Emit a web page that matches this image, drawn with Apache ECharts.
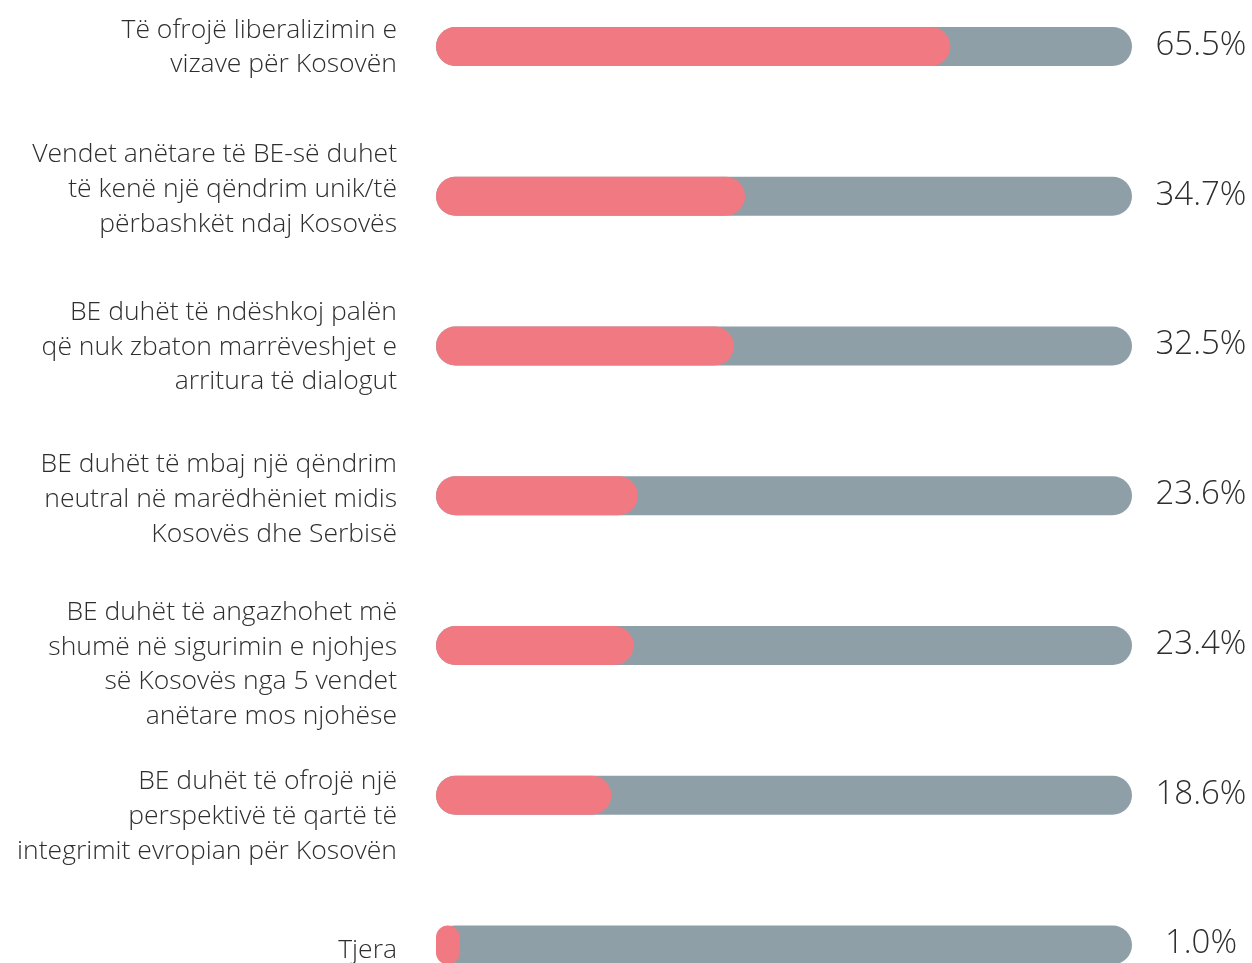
<!DOCTYPE html>
<html>
<head>
<meta charset="utf-8">
<script src="https://cdn.jsdelivr.net/npm/echarts@6/dist/echarts.min.js"></script>
<style>
html,body{margin:0;padding:0;background:#fff;}
#c{width:1252px;height:963px;}
</style>
</head>
<body>
<div id="c"></div>
<script>
// Category labels (top to bottom)
const categories = [
  "Të ofrojë liberalizimin e\nvizave për Kosovën",
  "Vendet anëtare të BE-së duhet\ntë kenë një qëndrim unik/të\npërbashkët ndaj Kosovës",
  "BE duhët të ndëshkoj palën\nqë nuk zbaton marrëveshjet e\narritura të dialogut",
  "BE duhët të mbaj një qëndrim\nneutral në marëdhëniet midis\nKosovës dhe Serbisë",
  "BE duhët të angazhohet më\nshumë në sigurimin e njohjes\nsë Kosovës nga 5 vendet\nanëtare mos njohëse",
  "BE duhët të ofrojë një\nperspektivë të qartë të\nintegrimit evropian për Kosovën",
  "Tjera"
];
// Printed percentages
const values = [65.5, 34.7, 32.5, 23.6, 23.4, 18.6, 1.0];
// Length of the red fill as drawn, in % of the track
const fillLength = [73.9, 44.4, 42.8, 29.0, 28.4, 25.2, 3.4];
// Track (full) length
const trackLength = [100, 100, 100, 100, 100, 100, 100];
// Vertical nudge of each category label in the original layout (px, + = down)
const labelShift = [1, -7, 1, 4, 19, 21, 5];

const FONT = "'Open Sans', 'Noto Sans', sans-serif";

// spacer rich styles: a thin blank line above (shift down) or below (shift up)
const rich = {};
labelShift.forEach((s, i) => {
  rich['sp' + i] = { fontSize: 1, lineHeight: Math.max(1, Math.abs(s) * 2) };
});

const chart = echarts.init(document.getElementById('c'), null, { renderer: 'canvas' });
chart.setOption({
  animation: false,
  backgroundColor: '#ffffff',
  grid: { left: 436, right: 120, top: 46.5, bottom: 18, containLabel: false, outerBoundsMode: 'none' },
  xAxis: {
    type: 'value', min: 0, max: 100,
    show: false
  },
  yAxis: {
    type: 'category',
    inverse: true,
    boundaryGap: false,
    data: categories,
    axisLine: { show: false },
    axisTick: { show: false },
    splitLine: { show: false },
    axisLabel: {
      margin: 39,
      align: 'right',
      verticalAlign: 'middle',
      fontFamily: FONT,
      fontWeight: 300,
      fontSize: 26.5,
      lineHeight: 34.8,
      color: '#2e2e2e',
      rich: rich,
      formatter: (value, index) => {
        const s = labelShift[index];
        if (!s) return value;
        return s > 0 ? '{sp' + index + '| }\n' + value : value + '\n{sp' + index + '| }';
      }
    }
  },
  series: [
    {
      type: 'bar',
      data: trackLength,
      barWidth: 39,
      itemStyle: { color: '#8e9fa8', borderRadius: 19.5 },
      label: {
        show: true,
        position: 'right',
        distance: 69,
        align: 'center',
        verticalAlign: 'middle',
        offset: [0, -1],
        formatter: (p) => values[p.dataIndex].toFixed(1) + '%',
        fontFamily: FONT,
        fontWeight: 300,
        fontSize: 33,
        color: '#2e2e2e'
      },
      silent: true
    },
    {
      type: 'bar',
      data: fillLength,
      barWidth: 39,
      barGap: '-100%',
      itemStyle: { color: '#f17a82', borderRadius: 19.5 },
      silent: true
    }
  ]
});
</script>
</body>
</html>
